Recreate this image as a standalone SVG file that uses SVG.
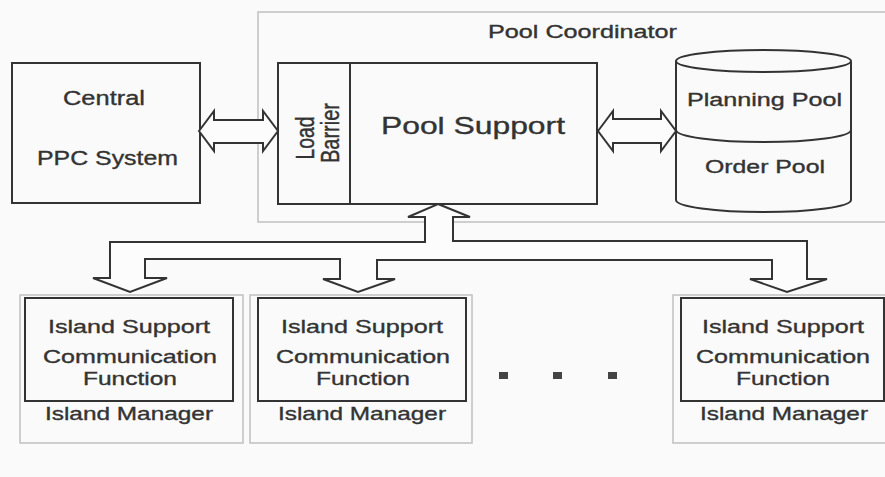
<svg xmlns="http://www.w3.org/2000/svg" width="885" height="477" viewBox="0 0 885 477">
<style>
.box{fill:none;stroke:#333;stroke-width:2}
.frame{fill:none;stroke:#c4c4c4;stroke-width:1.6}
.arrow{fill:#fcfcfc;stroke:#333;stroke-width:2;stroke-linejoin:miter}
text{font-family:"Liberation Sans",Arial,sans-serif;fill:#333;stroke:#333;stroke-width:0.35;text-anchor:middle}
.t18{font-size:18px}
.t19{font-size:19px}
.t20{font-size:20px}
.t24{font-size:24px}
.dot{fill:#444}
</style>
<rect width="885" height="477" fill="#fafafa"/>

<g id="pool-coordinator">
  <rect class="frame" x="258" y="12" width="630" height="210"/>
  <text class="t18" x="582.5" y="38" textLength="189" lengthAdjust="spacingAndGlyphs">Pool Coordinator</text>
</g>

<g id="central-ppc">
  <rect class="box" x="12" y="63" width="188" height="140" fill="#fcfcfc"/>
  <text class="t20" x="104" y="105" textLength="82" lengthAdjust="spacingAndGlyphs">Central</text>
  <text class="t20" x="107.5" y="165" textLength="141" lengthAdjust="spacingAndGlyphs">PPC System</text>
</g>

<g id="pool-support">
  <rect class="box" x="278" y="63" width="319" height="141"/>
  <line class="box" x1="350" y1="63" x2="350" y2="204"/>
  <text class="t20" transform="translate(314,138) scale(1.25,1) rotate(-90)" textLength="43" lengthAdjust="spacingAndGlyphs">Load</text>
  <text class="t20" transform="translate(339,133) scale(1.25,1) rotate(-90)" textLength="60" lengthAdjust="spacingAndGlyphs">Barrier</text>
  <text class="t24" x="473" y="134" textLength="184" lengthAdjust="spacingAndGlyphs">Pool Support</text>
</g>

<g id="pools">
  <path class="box" d="M676,61 L676,200 A87.5,12 0 0 0 851,200 L851,61"/>
  <ellipse class="box" cx="763.5" cy="61" rx="87.5" ry="11"/>
  <path class="box" d="M676,130 A87.5,12 0 0 0 851,130"/>
  <text class="t18" x="764.5" y="106" textLength="155" lengthAdjust="spacingAndGlyphs">Planning Pool</text>
  <text class="t18" x="765" y="173" textLength="120" lengthAdjust="spacingAndGlyphs">Order Pool</text>
</g>

<g id="island-manager-1">
  <rect class="frame" x="20" y="295" width="223" height="148"/>
  <rect class="box" x="25" y="298" width="208" height="103"/>
  <text class="t19" x="129" y="333" textLength="162" lengthAdjust="spacingAndGlyphs">Island Support</text>
  <text class="t19" x="130" y="363" textLength="174" lengthAdjust="spacingAndGlyphs">Communication</text>
  <text class="t19" x="130" y="385" textLength="94" lengthAdjust="spacingAndGlyphs">Function</text>
  <text class="t19" x="129" y="420" textLength="168" lengthAdjust="spacingAndGlyphs">Island Manager</text>
</g>

<g id="island-manager-2">
  <rect class="frame" x="250" y="295" width="222" height="148"/>
  <rect class="box" x="258" y="298" width="208" height="103"/>
  <text class="t19" x="362" y="333" textLength="162" lengthAdjust="spacingAndGlyphs">Island Support</text>
  <text class="t19" x="363" y="363" textLength="174" lengthAdjust="spacingAndGlyphs">Communication</text>
  <text class="t19" x="363" y="385" textLength="94" lengthAdjust="spacingAndGlyphs">Function</text>
  <text class="t19" x="362" y="420" textLength="168" lengthAdjust="spacingAndGlyphs">Island Manager</text>
</g>

<g id="island-manager-n">
  <rect class="frame" x="673" y="295" width="220" height="148"/>
  <rect class="box" x="681" y="298" width="203" height="103"/>
  <text class="t19" x="783" y="333" textLength="162" lengthAdjust="spacingAndGlyphs">Island Support</text>
  <text class="t19" x="783" y="363" textLength="174" lengthAdjust="spacingAndGlyphs">Communication</text>
  <text class="t19" x="783" y="385" textLength="94" lengthAdjust="spacingAndGlyphs">Function</text>
  <text class="t19" x="784" y="420" textLength="168" lengthAdjust="spacingAndGlyphs">Island Manager</text>
</g>

<g id="ellipsis">
  <rect class="dot" x="499" y="372" width="9" height="7"/>
  <rect class="dot" x="553" y="372" width="9" height="7"/>
  <rect class="dot" x="608" y="372" width="9" height="7"/>
</g>

<g id="connectors">
  <path class="arrow" d="M199,131 L214,111 L214,120 L263,120 L263,111 L278,131 L263,151 L263,143 L214,143 L214,151 Z"/>
  <path class="arrow" d="M598,131 L613,111 L613,119 L661,119 L661,111 L676,131 L661,151 L661,143 L613,143 L613,151 Z"/>
  <path class="arrow" d="M438,204 L470,217 L453,217 L453,241 L807,241 L807,279 L827,279 L787,292 L750,279 L772,279 L772,260 L377,260 L377,279 L395,279 L358,292 L323,279 L340,279 L340,259 L145,259 L145,278 L167,278 L130,292 L93,278 L110,278 L110,242 L425,242 L425,217 L408,217 Z"/>
</g>
</svg>
